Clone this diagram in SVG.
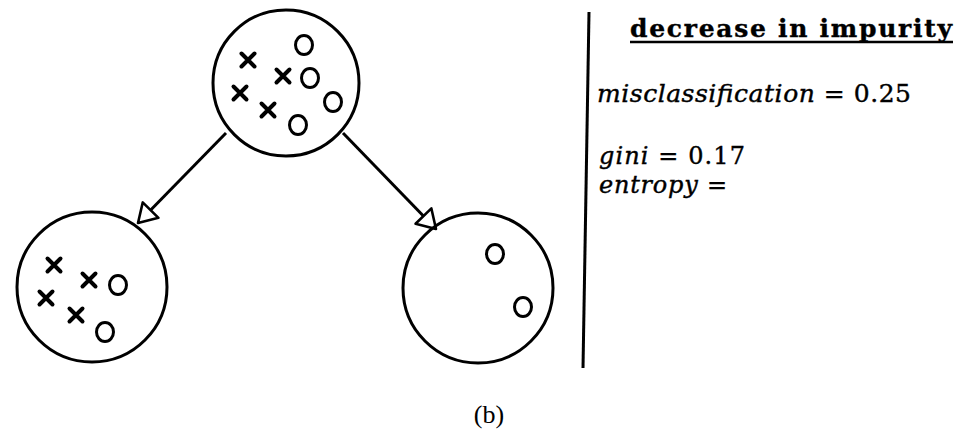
<svg xmlns="http://www.w3.org/2000/svg" xmlns:xlink="http://www.w3.org/1999/xlink" width="966" height="430" viewBox="0 0 966 430">
<style>
.node{fill:none;stroke:#000;stroke-width:3}
.xm{fill:none;stroke:#000;stroke-width:4;stroke-linecap:round}
.om{fill:none;stroke:#000;stroke-width:3}
.edge{stroke:#000;stroke-width:3;fill:none}
.t{font-family:"DejaVu Serif","Liberation Serif",serif;fill:#000;stroke:#000;stroke-width:0.4}
.cap{font-family:"Liberation Serif","Times New Roman",serif;fill:#000}
</style>
<defs>
<marker id="arr" markerUnits="userSpaceOnUse" viewBox="-22 -13 24 26" refX="0" refY="0" markerWidth="24" markerHeight="26" orient="auto">
<path d="M0,0 L-18,-11 L-18,11 Z" fill="#fff" stroke="#000" stroke-width="2.6" stroke-linejoin="round"/>
</marker>
<path id="x" class="xm" d="M-6.5,-6.5 L6.5,6.5 M6.5,-6.5 L-6.5,6.5"/>
<ellipse id="o" class="om" cx="0" cy="0" rx="8.5" ry="9.5"/>
</defs>
<rect width="966" height="430" fill="#fff"/>
<g id="connectors">
<line class="edge" x1="226" y1="133" x2="138" y2="223" marker-end="url(#arr)"/>
<line class="edge" x1="343" y1="133" x2="436" y2="229" marker-end="url(#arr)"/>
</g>
<g id="root">
<circle class="node" cx="286" cy="83" r="73"/>
<use xlink:href="#x" x="248" y="60"/>
<use xlink:href="#x" x="283" y="76"/>
<use xlink:href="#x" x="240" y="93"/>
<use xlink:href="#x" x="268" y="110"/>
<use xlink:href="#o" x="304" y="45"/>
<use xlink:href="#o" x="310" y="78"/>
<use xlink:href="#o" x="333" y="102"/>
<use xlink:href="#o" x="298" y="125"/>
</g>
<g id="left">
<circle class="node" cx="92" cy="287" r="75"/>
<use xlink:href="#x" x="54" y="265"/>
<use xlink:href="#x" x="89" y="280"/>
<use xlink:href="#x" x="46" y="298"/>
<use xlink:href="#x" x="76" y="315"/>
<use xlink:href="#o" x="118" y="285"/>
<use xlink:href="#o" x="105" y="332"/>
</g>
<g id="right">
<circle class="node" cx="478" cy="288" r="75"/>
<use xlink:href="#o" x="495" y="254"/>
<use xlink:href="#o" x="523" y="307"/>
</g>
<g id="divider">
<line x1="589" y1="12" x2="583" y2="368" stroke="#000" stroke-width="3"/>
</g>
<g id="legend">
<text class="t" x="630" y="37" font-size="25" font-weight="bold" textLength="322" lengthAdjust="spacing">decrease in impurity</text>
<line x1="630" y1="42" x2="953" y2="42" stroke="#000" stroke-width="2.4"/>
<text class="t" x="597" y="102" font-size="25" textLength="314" lengthAdjust="spacing"><tspan font-style="italic">misclassification</tspan> = 0.25</text>
<text class="t" x="599" y="164" font-size="24" textLength="146" lengthAdjust="spacing"><tspan font-style="italic">gini</tspan> = 0.17</text>
<text class="t" x="599" y="193" font-size="24" textLength="128" lengthAdjust="spacing"><tspan font-style="italic">entropy</tspan> =</text>
</g>
<text class="cap" x="489" y="423" font-size="26" text-anchor="middle">(b)</text>
</svg>
